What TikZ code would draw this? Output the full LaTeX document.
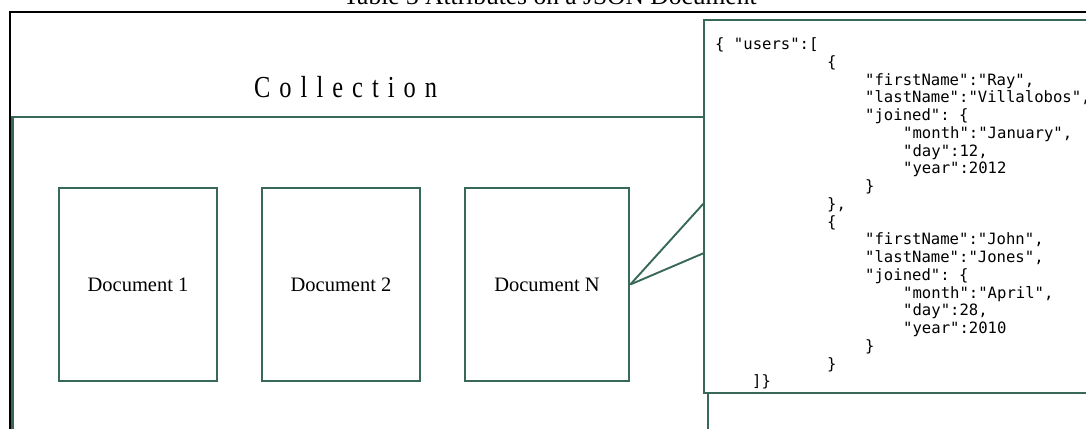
\documentclass[tikz,border=0pt]{standalone}
\usepackage{fontspec}
\usepackage{graphicx}
\setmainfont{Liberation Serif}
\setmonofont{DejaVu Sans Mono}
\definecolor{dgreen}{RGB}{55,104,88}
\begin{document}
\begin{tikzpicture}[x=1pt,y=-1pt,
  blackline/.style={draw=black,line width=2.8pt},
  greenline/.style={draw=dgreen,line width=2.6pt},
  docbox/.style={greenline,rectangle,inner sep=0pt,minimum height=193pt,
    font=\fontsize{20.5}{24}\selectfont},
  json/.style={anchor=base west,inner sep=0pt,
    font=\fontsize{15.6}{17.75}\selectfont\ttfamily},
  link/.style={draw=dgreen,line width=1.9pt}]
\useasboundingbox (0,0) rectangle (1086,428);
\fill[white] (0,0) rectangle (1086,428);
% title (mostly cut off by the top edge)
\node[anchor=base,inner sep=0pt,font=\fontsize{25.5}{30}\selectfont] (title) at (550,5) {Table 3 Attributes on a JSON Document};
% collection box
\draw[blackline] (10,440) -- (10,12) -- (1095,12);
\node[anchor=base west,inner sep=0pt,font=\fontsize{30.5}{36}\selectfont] (coll) at (254,97)
  {\scalebox{0.8}[1]{\addfontfeature{LetterSpace=37}Collection}};
% inner green box
\draw[greenline] (12.5,440) -- (12.5,117) -- (708,117) -- (708,440);
% documents
\node[docbox,minimum width=158pt] (d1) at (138,284.5) {Document 1};
\node[docbox,minimum width=158pt] (d2) at (341,284.5) {Document 2};
\node[docbox,minimum width=164pt] (dn) at (547,284.5) {Document N};
% json box
\path[greenline,fill=white] (704,20) rectangle (1095,393);
\coordinate (c1) at (704,203);
\coordinate (c2) at (704,253);
\draw[link] (dn.east) -- (c1);
\draw[link] (dn.east) -- (c2);
% json text
\node[json] (j1)  at (715,49.5)    {\{ "users":[};
\node[json] (j2)  at (827,67.25)   {\{};
\node[json] (j3)  at (865,85)      {"firstName":"Ray",};
\node[json] (j4)  at (865,102.75)  {"lastName":"Villalobos",};
\node[json] (j5)  at (865,120.5)   {"joined": \{};
\node[json] (j6)  at (903,138.25)  {"month":"January",};
\node[json] (j7)  at (903,156)     {"day":12,};
\node[json] (j8)  at (903,173.75)  {"year":2012};
\node[json] (j9)  at (865,191.5)   {\}};
\node[json] (j10) at (827,209.25)  {\},};
\node[json] (j11) at (827,227)     {\{};
\node[json] (j12) at (865,244.75)  {"firstName":"John",};
\node[json] (j13) at (865,262.5)   {"lastName":"Jones",};
\node[json] (j14) at (865,280.25)  {"joined": \{};
\node[json] (j15) at (903,298)     {"month":"April",};
\node[json] (j16) at (903,315.75)  {"day":28,};
\node[json] (j17) at (903,333.5)   {"year":2010};
\node[json] (j18) at (865,351.25)  {\}};
\node[json] (j19) at (827,369)     {\}};
\node[json] (j20) at (752,386.75)  {]\}};
\end{tikzpicture}
\end{document}
